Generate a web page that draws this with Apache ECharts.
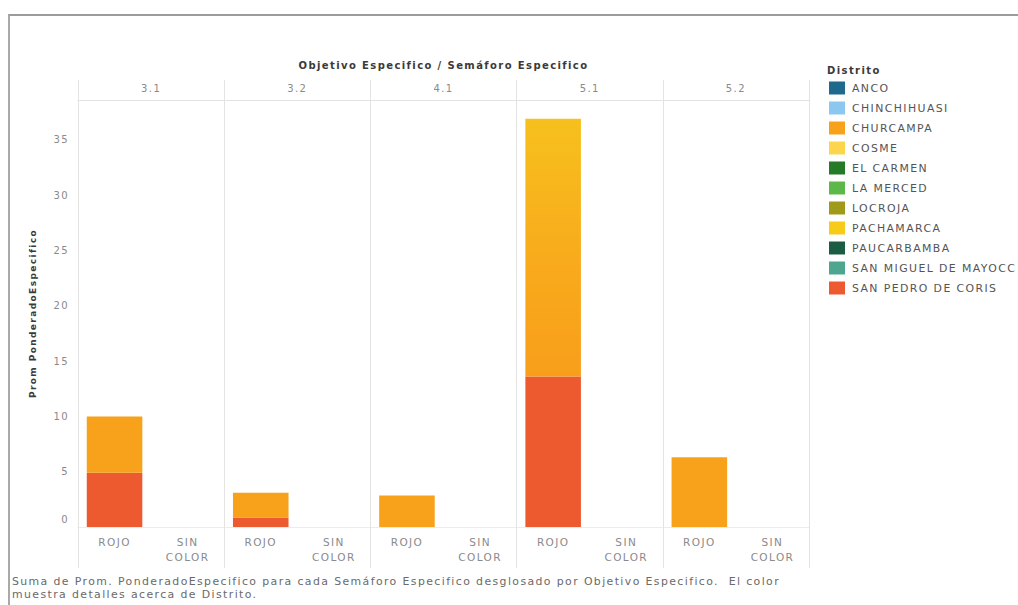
<!DOCTYPE html>
<html>
<head>
<meta charset="utf-8">
<script src="https://cdn.jsdelivr.net/npm/echarts@6/dist/echarts.min.js"></script>
<style>
  html, body { margin: 0; padding: 0; background: #ffffff; }
  #frame { position: absolute; left: 8px; top: 14px; width: 1010px; height: 591px;
           border-left: 2px solid #a9a9a9; border-top: 2px solid #9c9c9c; box-sizing: border-box; }
  #chart { position: absolute; left: 0; top: 0; width: 1018px; height: 605px; letter-spacing: 1.4px; }
</style>
</head>
<body>
<div id="frame"></div>
<div id="chart"></div>
<script>
// Panels (Objetivo Especifico) and the two traffic-light categories inside each
const objetivos = ['3.1', '3.2', '4.1', '5.1', '5.2'];
const semaforos = ['ROJO', 'SIN COLOR'];

// Districts in legend order, with their palette
const distritos = ['ANCO', 'CHINCHIHUASI', 'CHURCAMPA', 'COSME', 'EL CARMEN', 'LA MERCED',
  'LOCROJA', 'PACHAMARCA', 'PAUCARBAMBA', 'SAN MIGUEL DE MAYOCC', 'SAN PEDRO DE CORIS'];
const colores = ['#1f6a8c', '#8cc7ef', '#f8a21c', '#fbd64c', '#247a27', '#5db84a',
  '#9f9a19', '#f6cc18', '#1b5c45', '#4fa68f', '#ee5a2f'];

// Prom. PonderadoEspecifico for ROJO in each panel (SIN COLOR is empty everywhere)
const sanPedroRojo  = [4.9, 0.85, null, 13.6, null];
const churcampaRojo = [5.1, 2.25, 2.85, 23.3, 6.3];

// Value axis ticks
const yTicks = [0, 5, 10, 15, 20, 25, 30, 35];

const FONT = 'DejaVu Sans';
const LINE = '#e3e3e3';

// one x category per (objetivo, semaforo) pair
const xCats = [];
objetivos.forEach(() => semaforos.forEach(s => xCats.push(s === 'SIN COLOR' ? 'SIN\nCOLOR' : s)));

function expand(rojo, styleFor) {
  const out = [];
  rojo.forEach((v, i) => {
    const st = styleFor ? styleFor(i) : null;
    if (v == null) out.push('-');
    else if (st) out.push({ value: v, itemStyle: st });
    else out.push(v);
    out.push('-'); // SIN COLOR
  });
  return out;
}

const valuesByDistrito = {
  'SAN PEDRO DE CORIS': expand(sanPedroRojo),
  'CHURCAMPA': expand(churcampaRojo, i => objetivos[i] === '5.1' ? {
    color: new echarts.graphic.LinearGradient(0, 0, 0, 1, [
      { offset: 0, color: '#f6c01d' }, { offset: 0.55, color: '#f8ab1c' }, { offset: 1, color: '#f89e1b' }])
  } : null)
};

// stacking order: SAN PEDRO DE CORIS at the base
const stackOrder = ['SAN PEDRO DE CORIS'].concat(distritos.filter(d => d !== 'SAN PEDRO DE CORIS'));
const series = stackOrder.map(name => ({
  name: name,
  type: 'bar',
  stack: 'total',
  xAxisIndex: 0,
  yAxisIndex: 0,
  barWidth: '76%',
  itemStyle: { color: colores[distritos.indexOf(name)] },
  emphasis: { disabled: true },
  data: valuesByDistrito[name] || xCats.map(() => '-')
}));

const chart = echarts.init(document.getElementById('chart'), null, { renderer: 'svg' });
chart.setOption({
  animation: false,
  textStyle: { fontFamily: FONT },
  title: [
    { text: 'Distrito', left: 827, top: 65, padding: 0,
      textStyle: { fontFamily: FONT, fontSize: 10, fontWeight: 'bold', color: '#3a3a3a' } },
    { text: 'Suma de Prom. PonderadoEspecifico para cada Semáforo Especifico desglosado por Objetivo Especifico.  El color\nmuestra detalles acerca de Distrito.',
      left: 12, top: 575, padding: 0,
      textStyle: { fontFamily: FONT, fontSize: 10.9, fontWeight: 'normal', color: '#6a6a6a', lineHeight: 13 } }
  ],
  legend: {
    orient: 'vertical', left: 829, top: 81.5, padding: 0,
    icon: 'rect', itemWidth: 16, itemHeight: 13, itemGap: 7,
    selectedMode: false,
    data: distritos,
    textStyle: { fontFamily: FONT, fontSize: 10.9, color: '#555', padding: [0, 0, 0, 2] }
  },
  grid: { left: 78, right: 209, top: 100, bottom: 78, containLabel: false },
  xAxis: [
    {
      type: 'category', position: 'bottom', data: xCats,
      axisLine: { show: true, lineStyle: { color: '#ececec' } },
      axisTick: { show: true, length: 41, interval: i => i % 2 === 0, lineStyle: { color: LINE } },
      axisLabel: { interval: 0, margin: 7, fontFamily: FONT, fontSize: 10.5, color: '#8a8a8a', lineHeight: 15 },
      splitLine: { show: false }
    },
    {
      type: 'category', position: 'top', data: objetivos,
      name: 'Objetivo Especifico / Semáforo Especifico',
      nameLocation: 'middle', nameGap: 30,
      nameTextStyle: { fontFamily: FONT, fontSize: 10, fontWeight: 'bold', color: '#3a3a3a' },
      axisLine: { show: true, lineStyle: { color: LINE } },
      axisTick: { show: true, length: 20, lineStyle: { color: LINE } },
      axisLabel: { interval: 0, margin: 7, fontFamily: FONT, fontSize: 10, color: '#8a8a8a' },
      splitLine: { show: true, interval: 0, lineStyle: { color: LINE, width: 1 } }
    }
  ],
  yAxis: {
    type: 'value', min: 0, max: 38.6, interval: 5,
    name: 'Prom PonderadoEspecifico', nameLocation: 'middle', nameGap: 41, nameRotate: 90,
    nameTextStyle: { fontFamily: FONT, fontSize: 9, fontWeight: 'bold', color: '#3a3a3a' },
    axisLine: { show: false }, axisTick: { show: false }, splitLine: { show: false },
    axisLabel: {
      margin: 9, fontFamily: FONT, fontSize: 10, color: '#8a8a8a', showMaxLabel: false,
      // the zero label sits a little above the baseline
      formatter: v => (v === 0 ? '{z|0}' : (yTicks.indexOf(v) >= 0 ? String(v) : '')),
      rich: { z: { fontFamily: FONT, fontSize: 10, color: '#8a8a8a', padding: [0, 0, 16, 0] } }
    }
  },
  series: series
});
</script>
</body>
</html>
